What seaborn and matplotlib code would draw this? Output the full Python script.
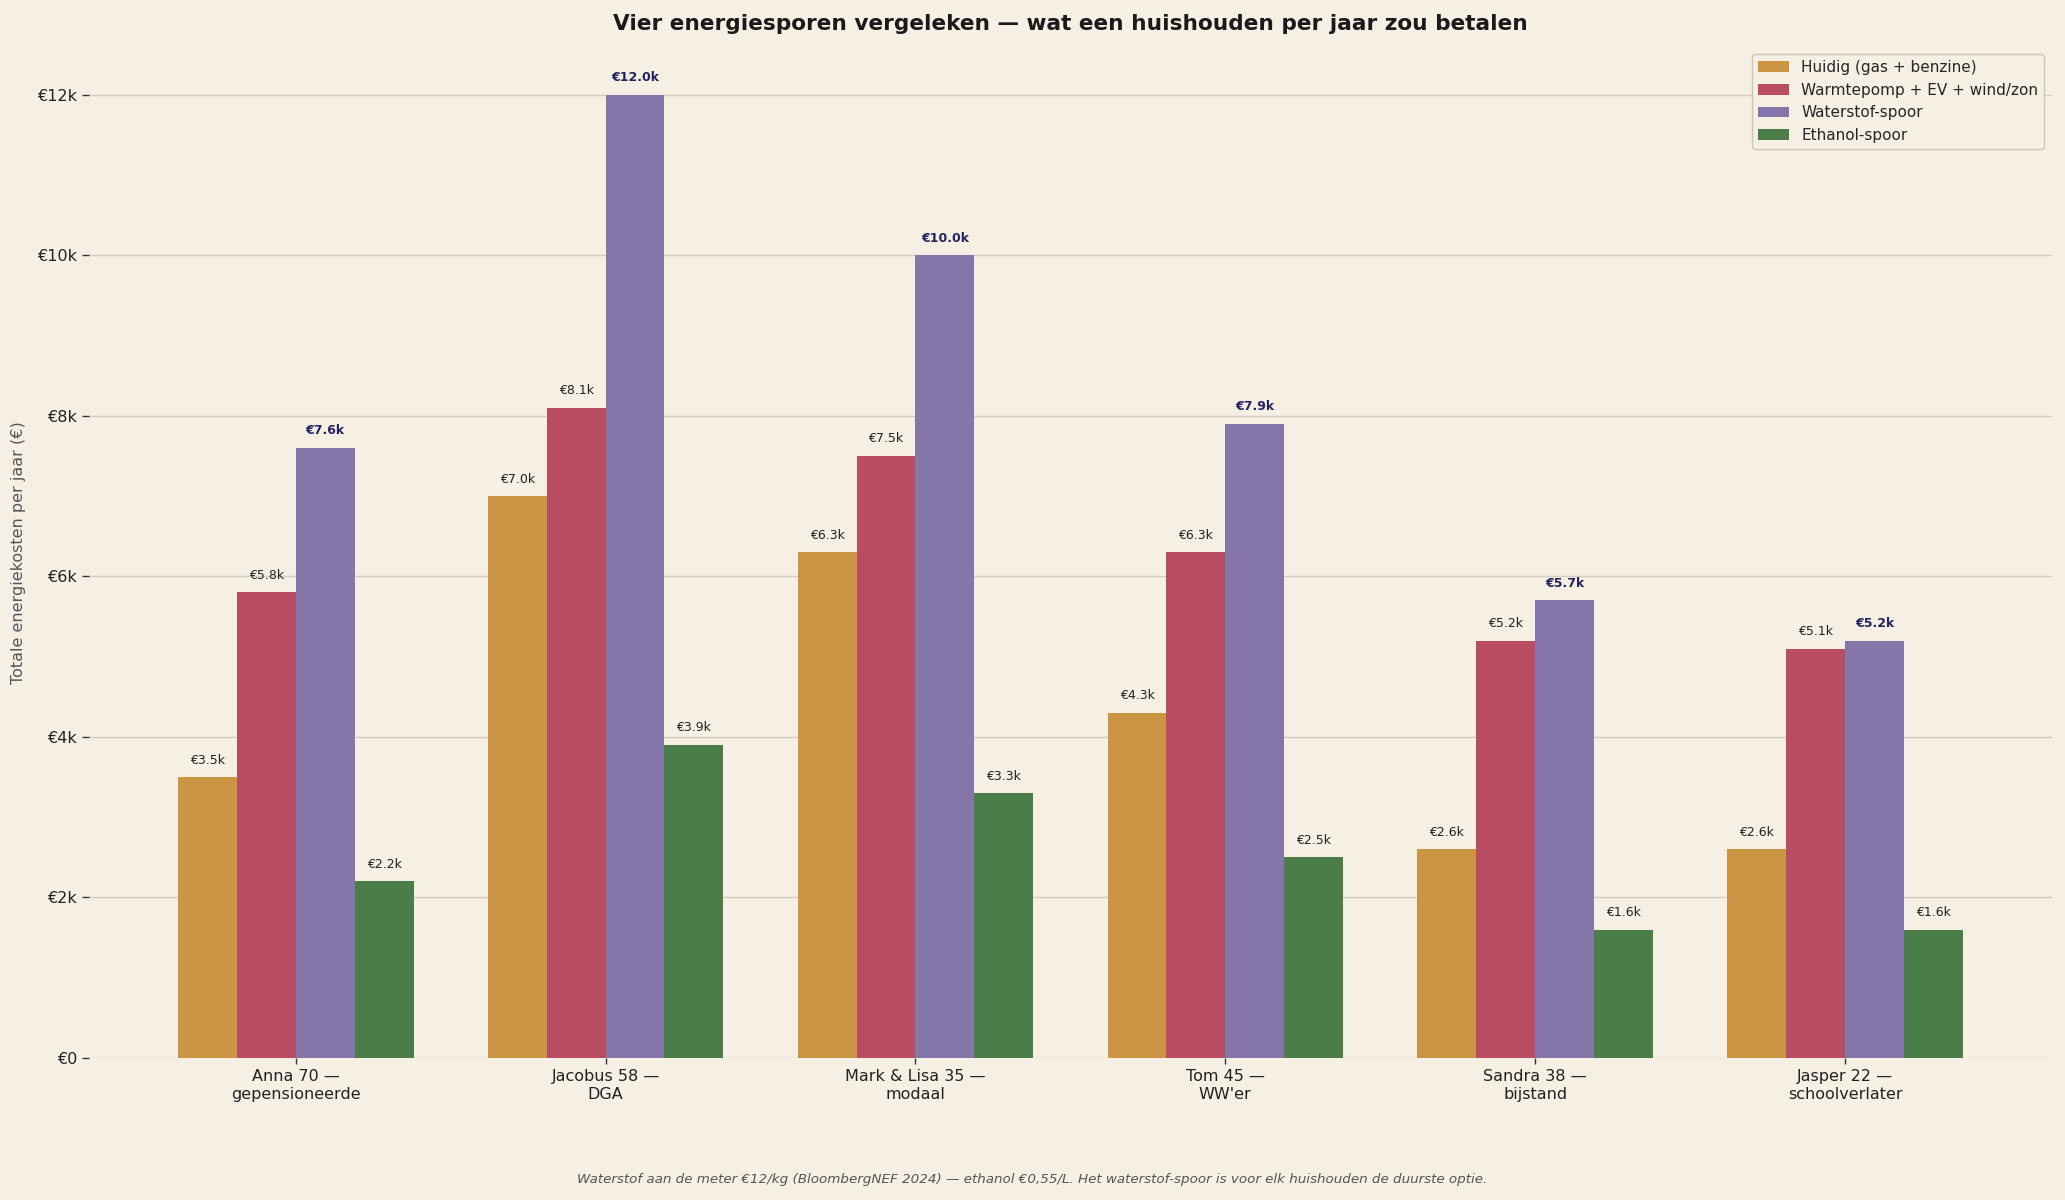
import pandas as pd
import matplotlib.pyplot as plt
import seaborn as sns
import numpy as np

# data (euro per year)
households = ['Anna 70 —\ngepensioneerde', 'Jacobus 58 —\nDGA', 'Mark & Lisa 35 —\nmodaal',
              "Tom 45 —\nWW'er", 'Sandra 38 —\nbijstand', 'Jasper 22 —\nschoolverlater']
tracks = ['Huidig (gas + benzine)', 'Warmtepomp + EV + wind/zon', 'Waterstof-spoor', 'Ethanol-spoor']
huidig = [3500, 7000, 6300, 4300, 2600, 2600]
warmtepomp = [5800, 8100, 7500, 6300, 5200, 5100]
waterstof = [7600, 12000, 10000, 7900, 5700, 5200]
ethanol = [2200, 3900, 3300, 2500, 1600, 1600]
colors = ['#CC9544', '#B74C62', '#8476A8', '#4B7D48']

bg = '#F5EFE4'

df = pd.DataFrame({
    'huishouden': households * 4,
    'spoor': np.repeat(tracks, len(households)),
    'kosten': huidig + warmtepomp + waterstof + ethanol,
})

sns.set_style('white')
plt.rcParams['font.family'] = ['DejaVu Sans']

fig = plt.figure(figsize=(20.65, 12), dpi=100, facecolor=bg)
ax = fig.add_axes([0.043, 0.1183, 0.9507, 0.843])
ax.set_facecolor(bg)

sns.barplot(data=df, x='huishouden', y='kosten', hue='spoor', hue_order=tracks,
            palette=colors, width=0.76, saturation=1, ax=ax, zorder=2, errorbar=None,
            linewidth=0, edgecolor='none')

# value labels, waterstof in bold
series = [huidig, warmtepomp, waterstof, ethanol]
for j, container in enumerate(ax.containers):
    for bar, val in zip(container, series[j]):
        x = bar.get_x() + bar.get_width() / 2
        if j == 2:
            ax.text(x, val + 130, f'€{val/1000:.1f}k', ha='center', va='bottom',
                    fontsize=9, fontweight='bold', color='#23235E')
        else:
            ax.text(x, val + 130, f'€{val/1000:.1f}k', ha='center', va='bottom',
                    fontsize=9, color='#222222')

ax.set_xlim(-0.668, 5.668)
ax.set_ylim(0, 12600)
yt = np.arange(0, 12001, 2000)
ax.set_yticks(yt)
ax.set_yticklabels(['€0'] + [f'€{int(v/1000)}k' for v in yt[1:]])
ax.yaxis.grid(True, color='#D6CEC0', linewidth=1, zorder=0)
ax.set_axisbelow(True)
sns.despine(ax=ax, left=True, bottom=True, top=True, right=True)
ax.tick_params(axis='both', which='both', length=5, width=1, color='#333333', labelsize=11.5, labelcolor='#222222')
ax.tick_params(axis='x', length=4, pad=4, labelsize=11.5)
ax.tick_params(axis='y', left=True)
ax.tick_params(axis='x', bottom=True)

ax.set_xlabel('')
ax.set_ylabel('Totale energiekosten per jaar (€)', fontsize=11.5, color='#555555', labelpad=8)
ax.set_title('Vier energiesporen vergeleken — wat een huishouden per jaar zou betalen',
             fontsize=15.6, fontweight='bold', color='#1a1a1a', pad=12)

leg = ax.legend(loc='upper right', fontsize=11, frameon=True, facecolor=bg,
                edgecolor='#CFC6B6', framealpha=1)
leg.set_title(None)

fig.text(0.5, 0.0175, 'Waterstof aan de meter €12/kg (BloombergNEF 2024) — ethanol €0,55/L. '
         'Het waterstof-spoor is voor elk huishouden de duurste optie.',
         ha='center', va='center', fontsize=9.7, style='italic', color='#555555')

plt.savefig('out.png', dpi=100, facecolor=bg)
